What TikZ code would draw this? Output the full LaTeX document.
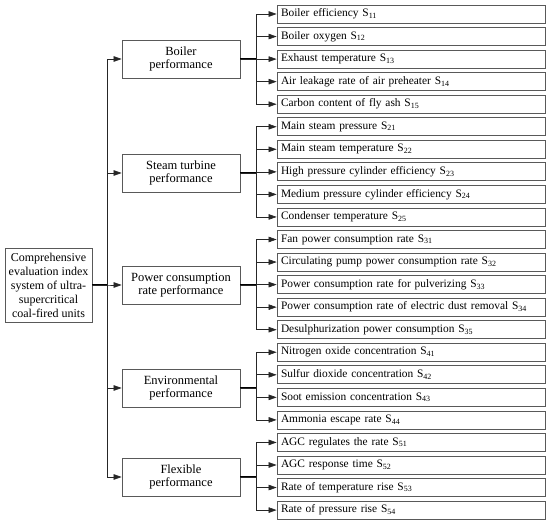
\documentclass[tikz,border=0pt]{standalone}
\usepackage{fontspec}
\setmainfont{Liberation Serif}
\usetikzlibrary{arrows.meta}
\begin{document}
\begin{tikzpicture}[x=1pt,y=-1pt,
 box/.style={draw=black!65, line width=0.75pt, fill=white},
 leaf/.style={box, minimum width=268pt, minimum height=18pt, text width=260pt, align=left, inner xsep=4pt, inner ysep=0pt, font=\fontsize{11.4}{13}\selectfont},
 mid/.style={box, minimum width=118pt, minimum height=38pt, align=center, font=\fontsize{12.5}{13.5}\selectfont, inner sep=1pt},
 rootbox/.style={box, minimum width=87pt, minimum height=74pt, align=center, font=\fontsize{12}{14}\selectfont, inner sep=1pt},
 arr/.style={-{Triangle[length=8pt,width=5.5pt]}, line width=0.6pt, draw=black!85},
 feed/.style={line width=1.1pt, draw=black}]
\useasboundingbox (0,0) rectangle (550,524);
\fill[white] (0,0) rectangle (550,524);

\node[rootbox] (root) at (48.5,285) {Comprehensive\\evaluation index\\system of ultra-\\supercritical\\coal-fired units};

\node[mid] (m1) at (181,59) {Boiler\\performance};
\node[mid] (m2) at (181,173) {Steam turbine\\performance};
\node[mid] (m3) at (181,285) {Power consumption\\rate performance};
\node[mid] (m4) at (181,388) {Environmental\\performance};
\node[mid] (m5) at (181,477) {Flexible\\performance};

\node[leaf] (l11) at (411,14.0) {Boiler efficiency S\textsubscript{11}};
\node[leaf] (l12) at (411,36.55) {Boiler oxygen S\textsubscript{12}};
\node[leaf] (l13) at (411,59.1) {Exhaust temperature S\textsubscript{13}};
\node[leaf] (l14) at (411,81.65) {Air leakage rate of air preheater S\textsubscript{14}};
\node[leaf] (l15) at (411,104.2) {Carbon content of fly ash S\textsubscript{15}};
\node[leaf] (l21) at (411,126.75) {Main steam pressure S\textsubscript{21}};
\node[leaf] (l22) at (411,149.3) {Main steam temperature S\textsubscript{22}};
\node[leaf] (l23) at (411,171.85) {High pressure cylinder efficiency S\textsubscript{23}};
\node[leaf] (l24) at (411,194.4) {Medium pressure cylinder efficiency S\textsubscript{24}};
\node[leaf] (l25) at (411,216.95) {Condenser temperature S\textsubscript{25}};
\node[leaf] (l31) at (411,239.5) {Fan power consumption rate S\textsubscript{31}};
\node[leaf] (l32) at (411,262.05) {Circulating pump power consumption rate S\textsubscript{32}};
\node[leaf] (l33) at (411,284.6) {Power consumption rate for pulverizing S\textsubscript{33}};
\node[leaf] (l34) at (411,307.15) {Power consumption rate of electric dust removal S\textsubscript{34}};
\node[leaf] (l35) at (411,329.7) {Desulphurization power consumption S\textsubscript{35}};
\node[leaf] (l41) at (411,352.25) {Nitrogen oxide concentration S\textsubscript{41}};
\node[leaf] (l42) at (411,374.8) {Sulfur dioxide concentration S\textsubscript{42}};
\node[leaf] (l43) at (411,397.35) {Soot emission concentration S\textsubscript{43}};
\node[leaf] (l44) at (411,419.9) {Ammonia escape rate S\textsubscript{44}};
\node[leaf] (l51) at (411,442.45) {AGC regulates the rate S\textsubscript{51}};
\node[leaf] (l52) at (411,465.0) {AGC response time S\textsubscript{52}};
\node[leaf] (l53) at (411,487.55) {Rate of temperature rise S\textsubscript{53}};
\node[leaf] (l54) at (411,510.1) {Rate of pressure rise S\textsubscript{54}};

% trunk
\draw[feed] (root.east) -- ++(15,0);
\foreach \m in {m1,m2,m3,m4,m5}
  \draw[arr] (root.east) -- ++(15,0) |- (\m.west);

% branches
\foreach \m/\ls in {m1/{l11,l12,l13,l14,l15}, m2/{l21,l22,l23,l24,l25}, m3/{l31,l32,l33,l34,l35}, m4/{l41,l42,l43,l44}, m5/{l51,l52,l53,l54}}{
  \draw[feed] (\m.east) -- ++(16,0);
  \foreach \l in \ls
    \draw[arr] (\m.east) -- ++(16,0) |- (\l.west);
}
\end{tikzpicture}
\end{document}
